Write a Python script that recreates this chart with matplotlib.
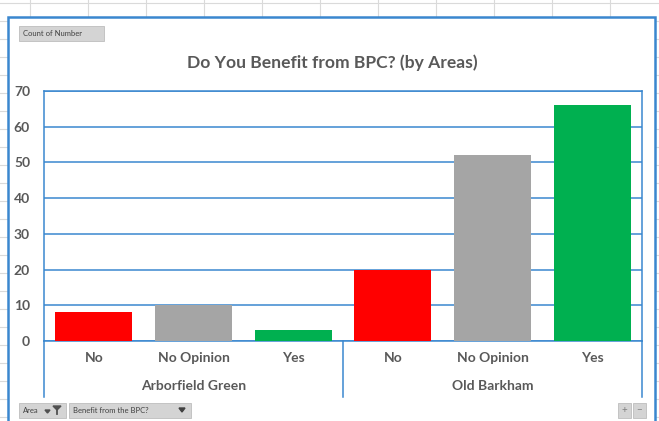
import matplotlib
matplotlib.use("Agg")
import matplotlib.pyplot as plt
from matplotlib.patches import Rectangle, Polygon
from matplotlib.transforms import blended_transform_factory

areas = ["Arborfield Green", "Old Barkham"]
answers = ["No", "No Opinion", "Yes"]
counts = {
    "Arborfield Green": [8, 10, 3],
    "Old Barkham": [20, 52, 66],
}
bar_colors = ["#FF0000", "#A5A5A5", "#00B050"]
y_ticks = [0, 10, 20, 30, 40, 50, 60, 70]

W, H = 659, 421
BLUE = "#3A87CF"
TXT = "#595959"
plt.rcParams['font.family'] = ['Lato', 'DejaVu Sans']


def fx(px):
    return px / W


def fy(py):
    return 1 - py / H


def box(fig, x0, y0, x1, y1, **kw):
    fig.add_artist(Rectangle((fx(x0), fy(y1)), fx(x1) - fx(x0), fy(y0) - fy(y1),
                             transform=fig.transFigure, **kw))


fig = plt.figure(figsize=(W / 100, H / 100), dpi=100)
fig.patch.set_facecolor("white")

# spreadsheet cell grid behind the chart
for x in range(30, W, 58):
    fig.add_artist(plt.Line2D([fx(x), fx(x)], [0, 1], color="#DADADA", lw=0.8, zorder=-3))
for y in range(3, H, 18):
    fig.add_artist(plt.Line2D([0, 1], [fy(y), fy(y)], color="#DADADA", lw=0.8, zorder=-3))

# chart area
box(fig, 8, 17, 655, 430, facecolor="white", edgecolor=BLUE, lw=1.8, zorder=-2)

ax = fig.add_axes([fx(44), fy(341), fx(642) - fx(44), fy(91) - fy(341)])
ax.set_facecolor("white")

xs = []
cols = []
vals = []
for gi, area in enumerate(areas):
    for ai, ans in enumerate(answers):
        xs.append(gi * len(answers) + ai)
        vals.append(counts[area][ai])
        cols.append(bar_colors[ai])

ax.bar(xs, vals, width=0.77, color=cols, zorder=3)
ax.set_xlim(-0.5, len(xs) - 0.5)
ax.set_ylim(0, 70)
ax.set_yticks(y_ticks)
ax.yaxis.grid(True, color=BLUE, lw=1.1, zorder=0)
ax.set_axisbelow(True)
ax.set_xticks([])
for s in ax.spines.values():
    s.set_color(BLUE)
    s.set_linewidth(1.1)
ax.tick_params(axis="y", length=0, pad=10, labelcolor=TXT, labelsize=10)
for lab in ax.get_yticklabels():
    lab.set_fontweight("bold")

tr = blended_transform_factory(ax.transData, ax.transAxes)
for x, ai in zip(xs, [a for g in range(len(areas)) for a in range(len(answers))]):
    ax.text(x, -0.068, answers[ai], transform=tr, ha="center", va="center",
            fontsize=10, fontweight="bold", color=TXT)
for gi, area in enumerate(areas):
    mid = gi * len(answers) + (len(answers) - 1) / 2
    ax.text(mid, -0.18, area, transform=tr, ha="center", va="center",
            fontsize=10, fontweight="bold", color=TXT)
for sx in [-0.5, 2.5, 5.5]:
    ax.plot([sx, sx], [0, -0.224], transform=tr, color=BLUE, lw=1.1, clip_on=False)

fig.text(fx(332), fy(63), "Do You Benefit from BPC? (by Areas)", ha="center", va="center",
         fontsize=12.6, fontweight="bold", color=TXT)

# pivot field buttons
btn = dict(facecolor="#D4D4D4", edgecolor="#BDBDBD", lw=0.6)
box(fig, 19, 26, 104, 41, **btn)
fig.text(fx(23), fy(33.5), "Count of Number", fontsize=5.5, color="#404040", va="center")
box(fig, 19, 403, 66, 418, **btn)
fig.text(fx(23), fy(410.5), "Area", fontsize=5.5, color="#404040", va="center")
fig.add_artist(Polygon([(fx(53), fy(406)), (fx(61), fy(406)), (fx(57), fy(410))],
                       closed=True, transform=fig.transFigure, color="#505050"))
fig.add_artist(plt.Line2D([fx(57), fx(57)], [fy(410), fy(414)], color="#505050", lw=1.3))
fig.add_artist(Polygon([(fx(45), fy(410)), (fx(50), fy(410)), (fx(47.5), fy(413))],
                       closed=True, transform=fig.transFigure, color="#505050"))
box(fig, 69, 403, 191, 418, **btn)
fig.text(fx(73), fy(410.5), "Benefit from the BPC?", fontsize=5.5, color="#404040", va="center")
fig.add_artist(Polygon([(fx(179), fy(408)), (fx(185), fy(408)), (fx(182), fy(412))],
                       closed=True, transform=fig.transFigure, color="#404040"))
box(fig, 618, 403, 631, 418, **btn)
box(fig, 633, 403, 646, 418, **btn)
fig.text(fx(624.5), fy(410.5), "+", fontsize=7, color="#808080", ha="center", va="center")
fig.text(fx(639.5), fy(410.5), "\u2212", fontsize=7, color="#808080", ha="center", va="center")

fig.savefig("out.png", dpi=100)
